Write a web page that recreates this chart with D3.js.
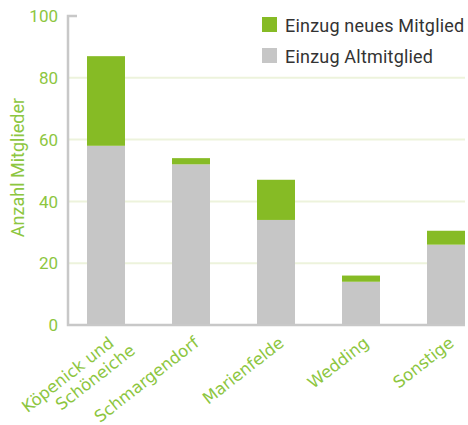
<!DOCTYPE html>
<html>
<head>
<meta charset="utf-8">
<script src="https://cdn.jsdelivr.net/npm/d3@7"></script>
<style>
  body { margin: 0; background: #fff; }
  svg { display: block; }
</style>
</head>
<body>
<div id="container"></div>
<script>
const categories = ['Köpenick und Schöneiche', 'Schmargendorf', 'Marienfelde', 'Wedding', 'Sonstige'];
const altmitglied = [58, 52, 34, 14, 26];
const neuesMitglied = [29, 2, 13, 2, 4.5];
const yTicks = [0, 20, 40, 60, 80, 100];
const seriesNames = ['Einzug neues Mitglied', 'Einzug Altmitglied'];

const green = '#86bb25';
const grey = '#c6c6c6';
const labelGreen = '#8dc63f';

const width = 468, height = 425;
const svg = d3.select('#container').append('svg')
  .attr('width', width)
  .attr('height', height);

const x = d3.scaleBand()
  .domain(categories)
  .range([63.5, 488.5])
  .paddingInner(0.553)
  .paddingOuter(0.2765);

const y = d3.scaleLinear().domain([0, 100]).range([325, 16]);

const axisLeft = 68, axisRight = 465;

// grid lines
svg.append('g')
  .selectAll('line')
  .data(yTicks.filter((t) => t > 0 && t < 100))
  .enter()
  .append('line')
  .attr('x1', axisLeft)
  .attr('x2', axisRight)
  .attr('y1', (d) => y(d))
  .attr('y2', (d) => y(d))
  .attr('stroke', '#edf3dc')
  .attr('stroke-width', 2);

// stacked bars
const stacked = categories.map((c, i) => ({ cat: c, alt: altmitglied[i], neu: neuesMitglied[i] }));

const bars = svg.append('g');
bars.selectAll('rect.alt')
  .data(stacked)
  .enter()
  .append('rect')
  .attr('class', 'alt')
  .attr('x', (d) => x(d.cat))
  .attr('width', x.bandwidth())
  .attr('y', (d) => y(d.alt))
  .attr('height', (d) => y(0) - y(d.alt))
  .attr('fill', grey);

bars.selectAll('rect.neu')
  .data(stacked)
  .enter()
  .append('rect')
  .attr('class', 'neu')
  .attr('x', (d) => x(d.cat))
  .attr('width', x.bandwidth())
  .attr('y', (d) => y(d.alt + d.neu))
  .attr('height', (d) => y(d.alt) - y(d.alt + d.neu))
  .attr('fill', green);

// axes lines
svg.append('path')
  .attr('d', `M${axisLeft + 9},${y(100)} H${axisLeft} V${y(0)} H${axisRight}`)
  .attr('fill', 'none')
  .attr('stroke', '#c8c8c8')
  .attr('stroke-width', 2.5);

// y tick labels
svg.append('g')
  .selectAll('text')
  .data(yTicks)
  .enter()
  .append('text')
  .attr('x', 58)
  .attr('y', (d) => y(d))
  .attr('dy', '0.36em')
  .attr('text-anchor', 'end')
  .attr('fill', labelGreen)
  .style('font-family', 'Roboto, sans-serif')
  .style('font-size', '17px')
  .text((d) => d);

// y axis title
svg.append('text')
  .attr('transform', 'translate(24, 167.5) rotate(-90)')
  .attr('text-anchor', 'middle')
  .attr('fill', labelGreen)
  .style('font-family', 'Roboto, sans-serif')
  .style('font-size', '18px')
  .text('Anzahl Mitglieder');

// x labels
const xLabels = svg.append('g')
  .selectAll('text')
  .data(categories)
  .enter()
  .append('text')
  .attr('transform', (d) => `translate(${x(d) + x.bandwidth() / 2 + 9}, 345) rotate(-38)`)
  .attr('text-anchor', 'end')
  .attr('fill', labelGreen)
  .style('font-family', '"DejaVu Sans", sans-serif')
  .style('font-size', '16.5px');

xLabels.each(function (d) {
  const words = d === 'Köpenick und Schöneiche' ? ['Köpenick und', 'Schöneiche'] : [d];
  const t = d3.select(this);
  words.forEach((w, i) => {
    t.append('tspan')
      .attr('x', i * 12)
      .attr('dy', i === 0 ? 0 : 19)
      .text(w);
  });
});

// legend
const legendColors = [green, grey];
const legend = svg.append('g')
  .selectAll('g')
  .data(seriesNames)
  .enter()
  .append('g')
  .attr('transform', (d, i) => `translate(262, ${17 + i * 31})`);

legend.append('rect')
  .attr('width', 15)
  .attr('height', 15)
  .attr('fill', (d, i) => legendColors[i]);

legend.append('text')
  .attr('x', 23)
  .attr('y', 14.5)
  .attr('fill', '#333')
  .style('font-family', 'Roboto, sans-serif')
  .style('font-size', '18px')
  .style('letter-spacing', '0.2px')
  .text((d) => d);
</script>
</body>
</html>
